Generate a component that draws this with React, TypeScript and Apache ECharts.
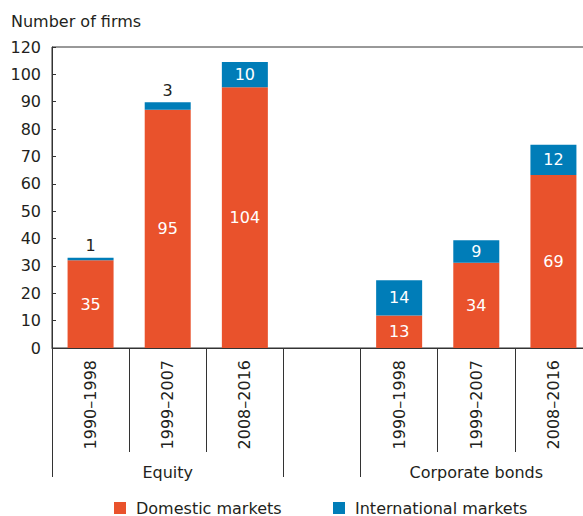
import React, { useEffect, useRef } from "react";
import * as echarts from "echarts";

const categories = ["1990–1998", "1999–2007", "2008–2016", "", "1990–1998", "1999–2007", "2008–2016"];
const groupAxisLabels = ["", "Equity", "", "", "", "Corporate bonds", ""];
const groupBoundaryIndices = [0, 3, 4];
const domestic: (number | null)[] = [35, 95, 104, null, 13, 34, 69];
const international: (number | null)[] = [1, 3, 10, null, 14, 9, 12];
const yTickLabels = ["0", "10", "20", "30", "40", "50", "60", "70", "80", "90", "100", "120"];
const yMax = 120;

const ORANGE = "#E9522C";
const BLUE = "#007DB8";
const TEXT = "#231F20";
const LINE = "#333333";
const FONT = "DejaVu Sans";

export default function App() {
  const ref = useRef<HTMLDivElement>(null);
  useEffect(() => {
    if (!ref.current) return;
    const chart = echarts.init(ref.current, undefined, { renderer: "svg" });
    const step = yMax / (yTickLabels.length - 1);
    const intlData = international.map((v) =>
      v !== null && v < 5
        ? {
            value: v,
            label: { show: true, position: "top", distance: 4, color: TEXT },
          }
        : v
    );
    chart.setOption({
      animation: false,
      textStyle: { fontFamily: FONT },
      title: {
        text: "Number of firms",
        left: 11,
        top: 13,
        padding: 0,
        textStyle: { fontFamily: FONT, fontSize: 16, fontWeight: "normal", color: TEXT, lineHeight: 16 },
      },
      grid: {
        left: 52,
        top: 47,
        width: 540,
        height: 301,
        show: true,
        borderColor: LINE,
        borderWidth: 1,
        containLabel: false,
        outerBoundsMode: "none",
      },
      legend: [
        {
          data: ["Domestic markets"],
          left: 114,
          top: 500,
          padding: 0,
          icon: "rect",
          itemWidth: 12,
          itemHeight: 12,
          textStyle: { fontFamily: FONT, fontSize: 16, color: TEXT, padding: [0, 0, 0, 5] },
        },
        {
          data: ["International markets"],
          left: 333,
          top: 500,
          padding: 0,
          icon: "rect",
          itemWidth: 12,
          itemHeight: 12,
          textStyle: { fontFamily: FONT, fontSize: 16, color: TEXT, padding: [0, 0, 0, 5] },
        },
      ],
      xAxis: [
        {
          type: "category",
          data: categories,
          axisLine: { lineStyle: { color: LINE, width: 1 } },
          axisTick: { show: true, interval: 0, length: 104, lineStyle: { color: LINE } },
          axisLabel: {
            interval: 0,
            rotate: 90,
            margin: 12,
            fontFamily: FONT,
            fontSize: 16,
            color: TEXT,
          },
        },
        {
          type: "category",
          data: groupAxisLabels,
          position: "bottom",
          axisLine: { show: false },
          axisTick: {
            show: true,
            interval: (i: number) => groupBoundaryIndices.includes(i),
            length: 129,
            lineStyle: { color: LINE },
          },
          axisLabel: {
            interval: 0,
            margin: 116,
            fontFamily: FONT,
            fontSize: 16,
            lineHeight: 16,
            color: TEXT,
          },
        },
      ],
      yAxis: {
        type: "value",
        min: 0,
        max: yMax,
        interval: step,
        axisLine: { show: true, lineStyle: { color: LINE } },
        axisTick: { show: true, inside: true, length: 4, lineStyle: { color: LINE } },
        splitLine: { show: false },
        axisLabel: {
          margin: 11,
          fontFamily: FONT,
          fontSize: 16,
          color: TEXT,
          formatter: (v: number) => yTickLabels[Math.round(v / step)] ?? "",
        },
      },
      series: [
        {
          name: "Domestic markets",
          type: "bar",
          stack: "total",
          barWidth: 46,
          itemStyle: { color: ORANGE },
          label: { show: true, position: "inside", color: "#fff", fontFamily: FONT, fontSize: 16 },
          data: domestic,
        },
        {
          name: "International markets",
          type: "bar",
          stack: "total",
          barWidth: 46,
          itemStyle: { color: BLUE },
          label: { show: true, position: "inside", color: "#fff", fontFamily: FONT, fontSize: 16 },
          data: intlData,
        },
      ],
    });
    return () => chart.dispose();
  }, []);
  return (
    <div style={{ position: "fixed", left: 0, top: 0, width: 583, height: 516, overflow: "hidden", background: "#fff" }}>
      <div ref={ref} style={{ width: 583, height: 516 }} />
    </div>
  );
}
